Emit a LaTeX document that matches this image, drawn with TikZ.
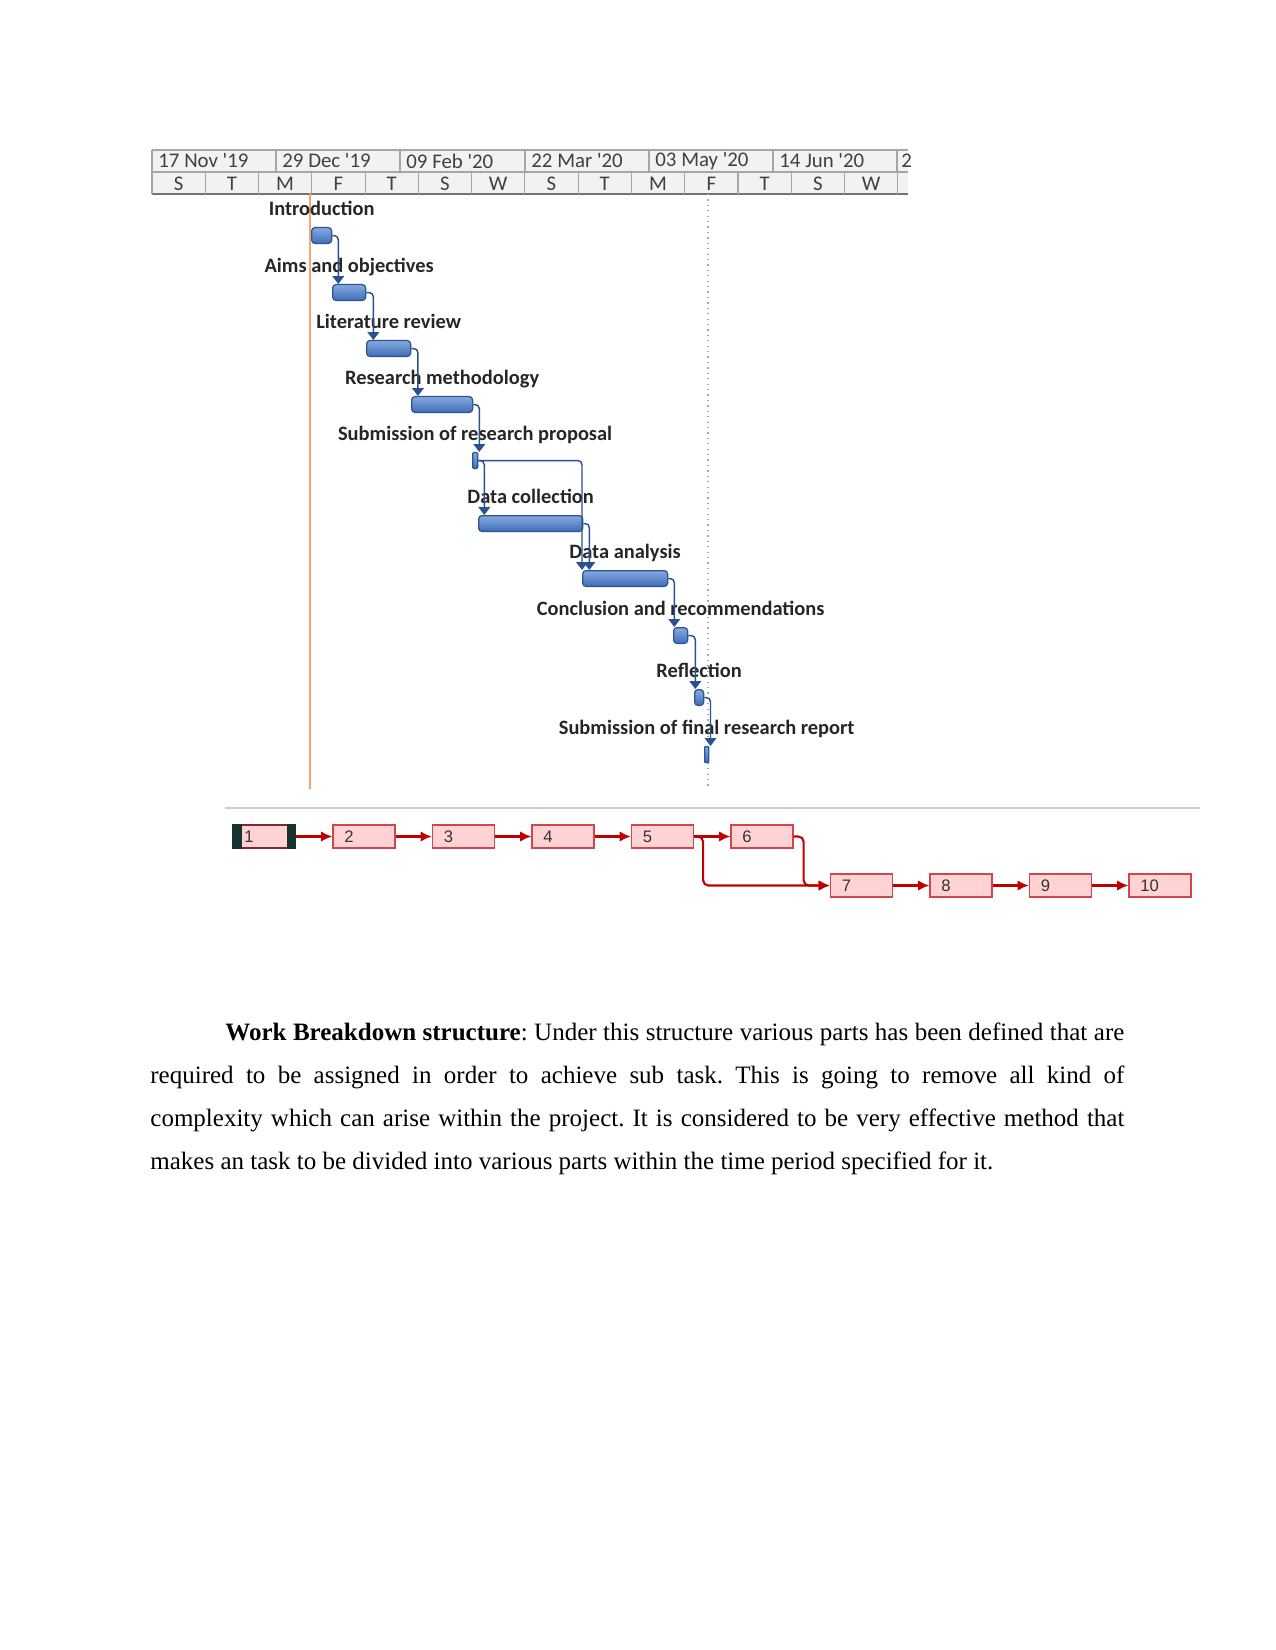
\documentclass[tikz,border=0pt]{standalone}
\usepackage{fontspec}
\setmainfont{Liberation Serif}
\newfontfamily\ganttfont{Carlito}
\newfontfamily\netfont{Liberation Sans}
\usepackage{tikz}
\usetikzlibrary{
  arrows.meta,
  positioning
}
\definecolor{BarTop}{HTML}{86AAE0}
\definecolor{BarBottom}{HTML}{3F6DB5}
\definecolor{BarEdge}{HTML}{2A5593}
\definecolor{LinkBlue}{HTML}{2B5090}
\definecolor{TodayOrange}{HTML}{F5A66E}
\definecolor{HeadFill}{HTML}{F2F2F2}
\definecolor{HeadLine}{HTML}{A6A6A6}
\definecolor{NetRed}{HTML}{C00000}
\definecolor{NetFill}{HTML}{FFD3D3}
\definecolor{NetEdge}{HTML}{D2464B}
\definecolor{NetDark}{HTML}{17332F}

\begin{document}
\begin{tikzpicture}[
  x=0.48pt,
  y=-0.48pt,
  >=Latex,
  bar/.style={
    anchor=north west,
    inner sep=0pt,
    minimum height=7.6pt,
    rounded corners=1.6pt,
    draw=BarEdge,
    line width=0.6pt,
    top color=BarTop,
    bottom color=BarBottom
  },
  tasklbl/.style={
    inner sep=0pt,
    text depth=0pt,
    text=black!85,
    font=\ganttfont\bfseries\fontsize{9.8}{11}\selectfont
  },
  link/.style={-{Triangle[width=5.6pt,length=3.8pt]},draw=LinkBlue,line width=0.7pt,rounded corners=2pt},
  datecell/.style={anchor=west,inner sep=0pt,text=black!75,font=\ganttfont\fontsize{10}{12}\selectfont},
  daycell/.style={inner sep=0pt,text=black!75,font=\ganttfont\fontsize{10}{12}\selectfont},
  netbox/.style={
    draw=NetEdge,
    fill=NetFill,
    line width=0.6pt,
    minimum height=11pt,
    text width=18.76pt,
    inner xsep=5.5pt,
    inner ysep=0pt,
    align=left,
    text=black!80,
    font=\netfont\fontsize{8}{9}\selectfont
  },
  netlink/.style={-{Latex[length=5.4pt,width=5pt]},draw=NetRed,line width=1pt,rounded corners=2.5pt}
]

\useasboundingbox (0,0) rectangle (1275,1650);
\fill[white] (0,0) rectangle (1275,1650);

\fill[HeadFill] (152,150) rectangle (908,194);
\draw[HeadLine,line width=0.5pt] (152,150) -- (908,150);
\draw[HeadLine,line width=0.5pt] (152,172) -- (908,172);
\draw[HeadLine!70!black,line width=0.8pt] (152,194) -- (908,194);
\foreach \x in {152,276,400,525,649,773,897}
  \draw[HeadLine,line width=0.5pt] (\x,150) -- (\x,172);
\foreach \i in {0,...,14}
  \draw[HeadLine,line width=0.5pt] ({152+53.27*\i},172) -- ({152+53.27*\i},194);

\node[datecell] (date1) at (158,161) {17 Nov \textquotesingle 19};
\node[datecell] (date2) at (282,161) {29 Dec \textquotesingle 19};
\node[datecell] (date3) at (406,161) {09 Feb \textquotesingle 20};
\node[datecell] (date4) at (531,161) {22 Mar \textquotesingle 20};
\node[datecell] (date5) at (655,161) {03 May \textquotesingle 20};
\node[datecell] (date6) at (779,161) {14 Jun \textquotesingle 20};
\node[datecell] (date7) at (901,161) {2};
\foreach \d [count=\i from 0] in {S,T,M,F,T,S,W,S,T,M,F,T,S,W}
  \node[daycell] (day\i) at ({178.6+53.27*\i},184) {\d};

\draw[TodayOrange,line width=0.8pt] (310,194) -- (310,789);
\draw[gray!70,dotted,line width=0.6pt] (708,194) -- (708,787);

\node[bar,minimum width=9.6pt] (intro) at (311,227) {};
\node[bar,minimum width=15.84pt] (aims) at (332,284) {};
\node[bar,minimum width=21.12pt] (litrev) at (366,340) {};
\node[bar,minimum width=29.28pt] (method) at (411,396) {};
\node[bar,minimum width=2.4pt,rounded corners=0.5pt] (proposal) at (472,452) {};
\node[bar,minimum width=49.92pt] (collect) at (478,515) {};
\node[bar,minimum width=40.8pt] (analysis) at (582,570) {};
\node[bar,minimum width=6.72pt] (concl) at (673,627) {};
\node[bar,minimum width=4.32pt] (reflect) at (694,689) {};
\node[bar,minimum width=1.92pt,rounded corners=0.3pt] (final) at (704,746) {};

\node[tasklbl,above=5.5pt of intro] (introtxt) {Introduction};
\node[tasklbl,above=5.5pt of aims] (aimstxt) {Aims and objectives};
\node[tasklbl,above=5.5pt of litrev] (litrevtxt) {Literature review};
\node[tasklbl,above=5.5pt of method] (methodtxt) {Research methodology};
\node[tasklbl,above=5.5pt of proposal] (proposaltxt) {Submission of research proposal};
\node[tasklbl,above=5.5pt of collect] (collecttxt) {Data collection};
\node[tasklbl,above=5.5pt of analysis] (analysistxt) {Data analysis};
\node[tasklbl,above=5.5pt of concl] (concltxt) {Conclusion and recommendations};
\node[tasklbl,above=5.5pt of reflect] (reflecttxt) {Reflection};
\node[tasklbl,above=5.5pt of final] (finaltxt) {Submission of final research report};

\draw[link] (intro.east) -| ([xshift=2.9pt]intro.east |- aims.north);
\draw[link] (aims.east) -| ([xshift=3.4pt]aims.east |- litrev.north);
\draw[link] (litrev.east) -| ([xshift=3.2pt]litrev.east |- method.north);
\draw[link] (method.east) -| ([xshift=2.9pt]method.east |- proposal.north);
\draw[link] (proposal.east) -| ([xshift=2.9pt]proposal.east |- collect.north);
\draw[link] (proposal.east) -| (analysis.north west);
\draw[link] (collect.east) -| ([xshift=2.9pt]collect.east |- analysis.north);
\draw[link] (analysis.east) -| ([xshift=2.9pt]analysis.east |- concl.north);
\draw[link] (concl.east) -| ([xshift=3.4pt]concl.east |- reflect.north);
\draw[link] (reflect.east) -| ([xshift=3pt]reflect.east |- final.north);

\draw[gray!40,line width=1.4pt] (225,808) -- (1200,808);

\node[netbox,draw=NetEdge!60!black] (n1) at (264,836.5) {1};
\fill[NetDark] (n1.north west) rectangle ([xshift=4.8pt]n1.south west);
\fill[NetDark] ([xshift=-4.3pt]n1.north east) rectangle (n1.south east);
\node[netbox] (n2) at (364,836.5) {2};
\node[netbox] (n3) at (463.5,836.5) {3};
\node[netbox] (n4) at (563,836.5) {4};
\node[netbox] (n5) at (662.5,836.5) {5};
\node[netbox] (n6) at (762,836.5) {6};
\node[netbox] (n7) at (861.5,885.5) {7};
\node[netbox] (n8) at (961,885.5) {8};
\node[netbox] (n9) at (1060.5,885.5) {9};
\node[netbox] (n10) at (1160,885.5) {10};

\draw[netlink] (n1) -- (n2);
\draw[netlink] (n2) -- (n3);
\draw[netlink] (n3) -- (n4);
\draw[netlink] (n4) -- (n5);
\draw[netlink] (n5) -- (n6);
\draw[netlink] (n5.east) -- ++(9,0) |- (n7.west);
\draw[netlink] (n6.east) -- ++(10,0) |- (n7.west);
\draw[netlink] (n7) -- (n8);
\draw[netlink] (n8) -- (n9);
\draw[netlink] (n9) -- (n10);

\node[
  anchor=north west,
  inner sep=0pt,
  text width=467.5pt,
  align=justify,
  font=\fontsize{12}{20.7}\selectfont\frenchspacing
] (wbs) at (150,1022) {\hspace*{36pt}\textbf{Work Breakdown structure}: Under this structure various parts has been defined that are\linebreak
required to be assigned in order to achieve sub task. This is going to remove all kind of\linebreak
complexity which can arise within the project. It is considered to be very effective method that\linebreak
makes an task to be divided into various parts within the time period specified for it.};
\end{tikzpicture}
\end{document}
